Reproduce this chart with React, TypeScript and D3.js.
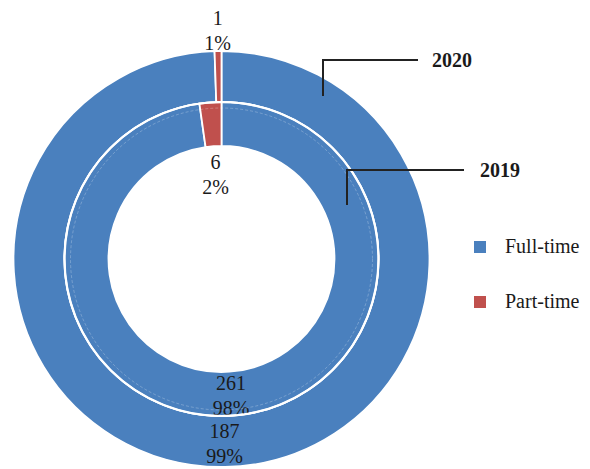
/**
 * Employment type doughnut
 * Two concentric rings: 2020 outside, 2019 inside
 */

import { useEffect, useRef } from 'react';
import * as d3 from 'd3';

const categories = ['Full-time', 'Part-time'];
const values2020 = [187, 1];
const values2019 = [261, 6];
const years = ['2020', '2019'];

const COLORS: Record<string, string> = {
  'Full-time': '#4a80be',
  'Part-time': '#c0504d',
};

const WIDTH = 590;
const HEIGHT = 469;
const FONT = '"Liberation Serif", "Times New Roman", serif';

interface Slice {
  category: string;
  value: number;
}

export default function App() {
  const svgRef = useRef<SVGSVGElement>(null);

  useEffect(() => {
    if (!svgRef.current) return;
    const svg = d3.select(svgRef.current);
    svg.selectAll('*').remove();

    const cx = 221.5;
    const cy = 259;
    const g = svg.append('g').attr('transform', `translate(${cx},${cy})`);

    const pie = d3
      .pie<Slice>()
      .sort(null)
      .value((d) => d.value);

    const rings = [
      { year: years[0], values: values2020, inner: 157, outer: 208, labelR: [184, 229] },
      { year: years[1], values: values2019, inner: 113, outer: 157, labelR: [136, 85] },
    ];

    rings.forEach((ring) => {
      const data: Slice[] = categories.map((c, i) => ({ category: c, value: ring.values[i] }));
      const total = d3.sum(ring.values);
      const arcs = pie(data);
      const arc = d3
        .arc<d3.PieArcDatum<Slice>>()
        .innerRadius(ring.inner)
        .outerRadius(ring.outer);

      g.selectAll(null)
        .data(arcs)
        .join('path')
        .attr('d', arc)
        .attr('fill', (d) => COLORS[d.data.category])
        .attr('stroke', '#fff')
        .attr('stroke-width', 1.8)
        .attr('stroke-linejoin', 'miter');

      // Value + percent labels
      arcs.forEach((d, i) => {
        const mid = (d.startAngle + d.endAngle) / 2;
        const r = ring.labelR[i];
        const x = Math.sin(mid) * r;
        const y = -Math.cos(mid) * r;
        const t = g
          .append('text')
          .attr('text-anchor', 'middle')
          .attr('font-family', FONT)
          .attr('font-size', 20)
          .attr('fill', '#1a1a1a');
        t.append('tspan').attr('x', x).attr('y', y - 5).text(d.data.value);
        t.append('tspan')
          .attr('x', x)
          .attr('y', y + 20)
          .text(`${Math.round((d.data.value / total) * 100)}%`);
      });
    });

    // faint dashed circle inside the inner ring
    g.append('circle')
      .attr('r', 151)
      .attr('fill', 'none')
      .attr('stroke', 'rgba(255,255,255,0.35)')
      .attr('stroke-width', 0.7)
      .attr('stroke-dasharray', '3,2');

    // ring separator
    g.append('circle')
      .attr('r', 157)
      .attr('fill', 'none')
      .attr('stroke', '#fff')
      .attr('stroke-width', 2.2);

    // Year callouts
    const callouts = [
      { year: years[0], x: 323, y1: 96, y: 60, x2: 418, tx: 432 },
      { year: years[1], x: 347, y1: 205, y: 170, x2: 464, tx: 480 },
    ];
    callouts.forEach((c) => {
      svg
        .append('path')
        .attr('d', `M${c.x},${c.y1}V${c.y}H${c.x2}`)
        .attr('fill', 'none')
        .attr('stroke', '#222')
        .attr('stroke-width', 2);
      svg
        .append('text')
        .attr('x', c.tx)
        .attr('y', c.y + 7)
        .attr('font-family', FONT)
        .attr('font-size', 20)
        .attr('font-weight', 'bold')
        .attr('fill', '#1a1a1a')
        .text(c.year);
    });

    // Legend
    const legend = svg
      .append('g')
      .selectAll('g')
      .data(categories)
      .join('g')
      .attr('transform', (_, i) => `translate(474,${241 + i * 55})`);
    legend
      .append('rect')
      .attr('width', 12)
      .attr('height', 12)
      .attr('fill', (d) => COLORS[d]);
    legend
      .append('text')
      .attr('x', 31)
      .attr('y', 12)
      .attr('font-family', FONT)
      .attr('font-size', 20)
      .attr('fill', '#1a1a1a')
      .text((d) => d);
  }, []);

  return (
    <svg
      ref={svgRef}
      width={WIDTH}
      height={HEIGHT}
      style={{ position: 'absolute', left: 0, top: 0, background: '#fff' }}
    />
  );
}
